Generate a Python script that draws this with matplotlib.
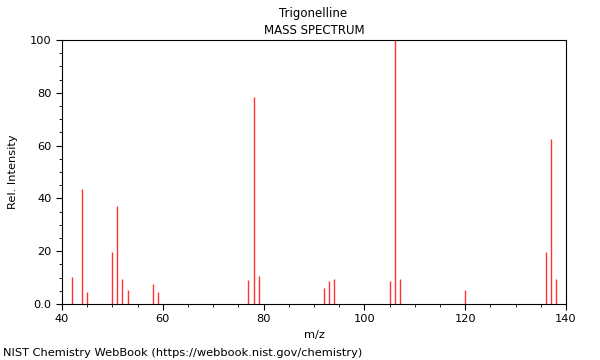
import numpy as np
import matplotlib.pyplot as plt
from matplotlib.ticker import MultipleLocator, FuncFormatter

# Peak data
mz = [42, 44, 45, 50, 51, 52, 53, 58, 59, 77, 78, 79, 92, 93, 94,
      105, 106, 107, 120, 136, 137, 138]
intensity = [10.2, 43.6, 4.7, 19.7, 37.1, 9.5, 5.2, 7.6, 4.5, 9.1, 78.4, 10.6,
             6.1, 8.7, 9.5, 8.8, 100.0, 9.5, 5.2, 19.7, 62.6, 9.3]

plt.rcParams['font.size'] = 8.2
fig = plt.figure(figsize=(6, 3.6), dpi=100)
ax = fig.add_axes([62 / 600, 1 - 304 / 360, 504 / 600, 264 / 360])

ax.vlines(mz, 0, intensity, colors='#ff3333', lw=1)

ax.set_xlim(40, 140)
ax.set_ylim(0, 100)
ax.xaxis.set_major_locator(MultipleLocator(20))
ax.xaxis.set_minor_locator(MultipleLocator(5))
ax.yaxis.set_major_locator(MultipleLocator(20))
ax.yaxis.set_minor_locator(MultipleLocator(5))
ax.yaxis.set_major_formatter(FuncFormatter(lambda v, p: '0.0' if v == 0 else '%d' % v))
ax.tick_params(which='major', direction='out', length=4, width=0.8)
ax.tick_params(which='minor', direction='out', length=2, width=0.6)

ax.set_xlabel('m/z')
ax.set_ylabel('Rel. Intensity')
ax.yaxis.set_label_coords(-44 / 504, 0.5)
fig.text(313 / 600, 1 - 13 / 360, 'Trigonelline', ha='center', va='center', fontsize=8.5)
fig.text(314 / 600, 1 - 30 / 360, 'MASS SPECTRUM', ha='center', va='center', fontsize=8.5)
fig.text(3 / 600, 1 - 353 / 360, 'NIST Chemistry WebBook (https://webbook.nist.gov/chemistry)',
         ha='left', va='center')

fig.savefig('out.png', dpi=100)
